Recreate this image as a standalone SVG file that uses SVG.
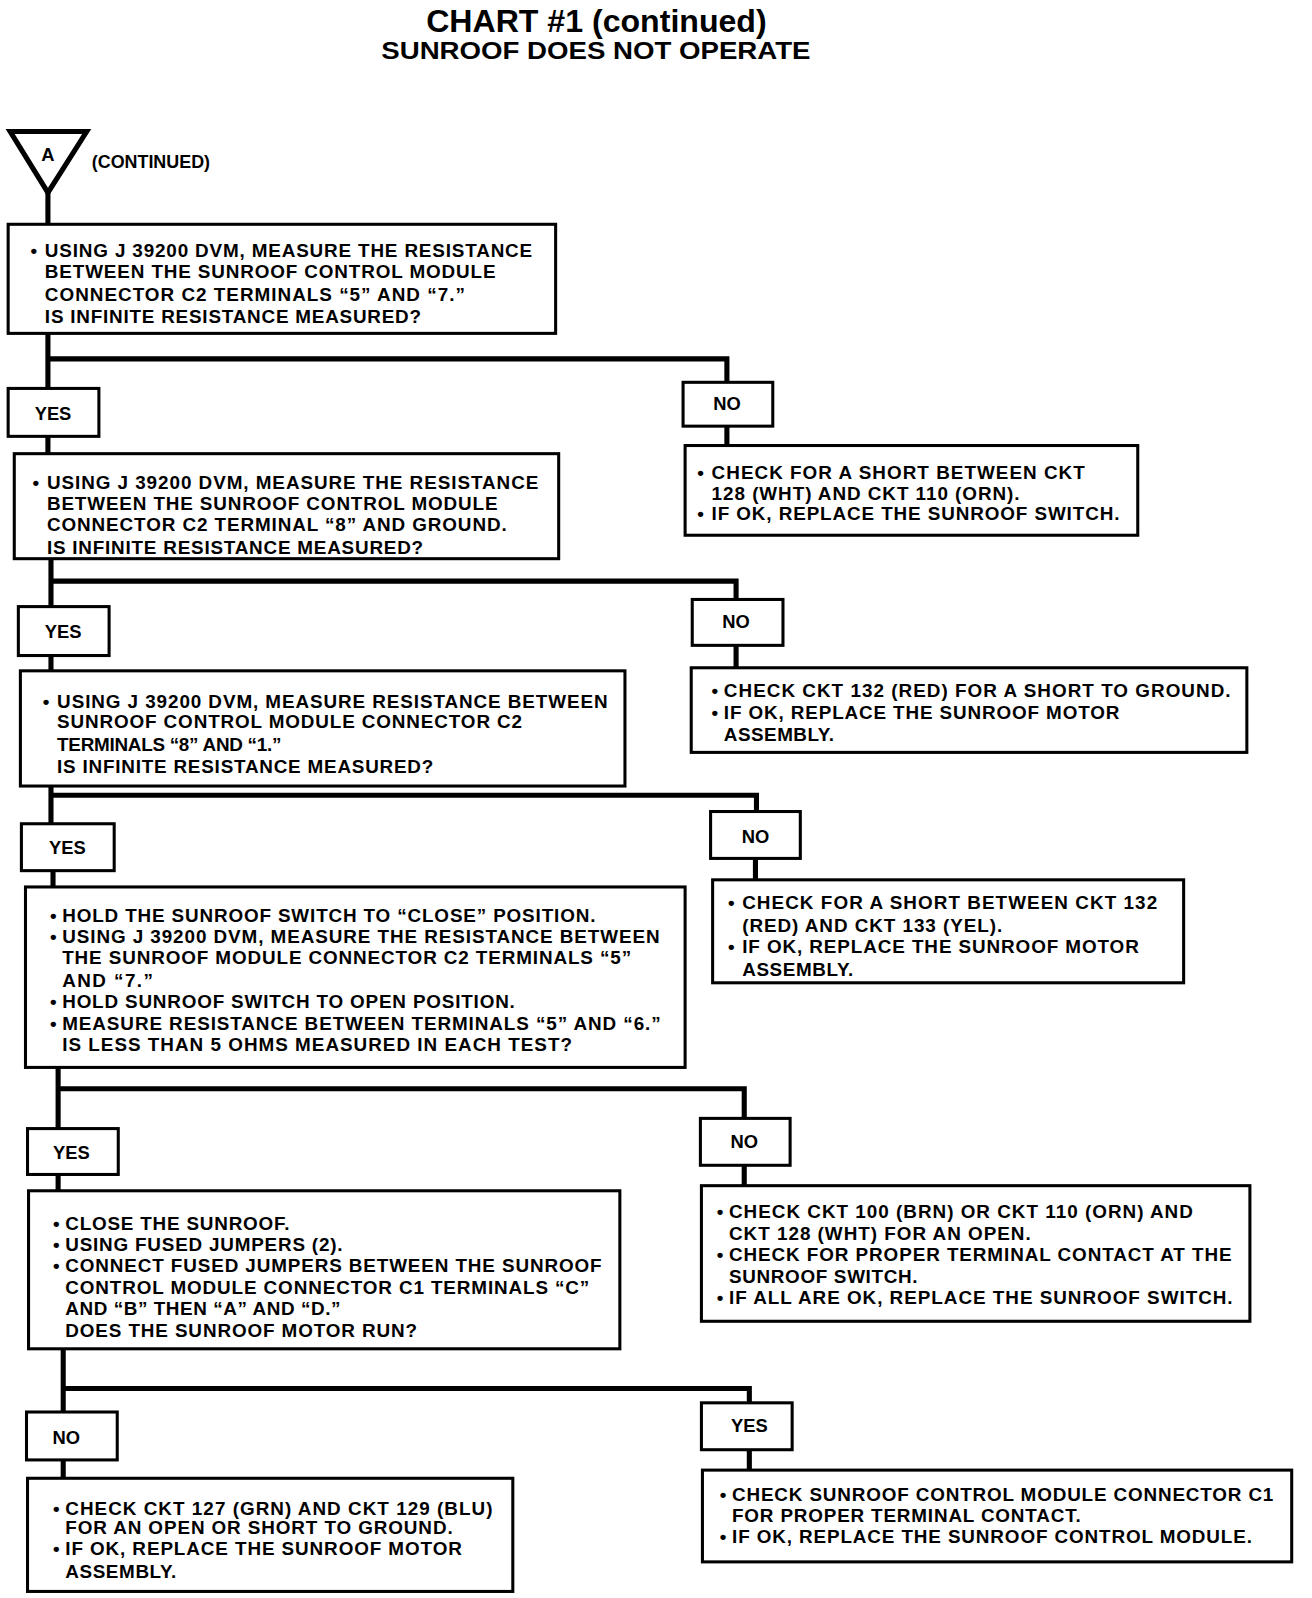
<svg xmlns="http://www.w3.org/2000/svg" width="1312" height="1598" viewBox="0 0 1312 1598">
<style>
.bg{fill:#fff}
.box{fill:#fff;stroke:#000;stroke-width:3}
.ln{fill:none;stroke:#000;stroke-width:5;stroke-linejoin:miter;stroke-linecap:square}
.t{font-family:"Liberation Sans",Arial,sans-serif;font-weight:bold;font-size:18.5px;fill:#000}
.lbl{font-family:"Liberation Sans",Arial,sans-serif;font-weight:bold;font-size:18px;fill:#000;text-anchor:middle}
.title{font-family:"Liberation Sans",Arial,sans-serif;font-weight:bold;fill:#000}
</style>
<rect class="bg" x="0" y="0" width="1312" height="1598"/>
<g transform="scale(1.0195)">
<text class="title" x="418" y="31" font-size="31" textLength="334" lengthAdjust="spacingAndGlyphs">CHART #1 (continued)</text>
<text class="title" x="374" y="58" font-size="23" textLength="421" lengthAdjust="spacingAndGlyphs">SUNROOF DOES NOT OPERATE</text>

<g id="connectors">
<path class="ln" d="M47,190 V220"/>
<path class="ln" d="M47,327 V381 M47,352 H713 V375"/>
<path class="ln" d="M47,428 V445 M713,418 V437"/>
<path class="ln" d="M50,548 V595 M50,570 H722 V588"/>
<path class="ln" d="M50,643 V658 M722,633 V655"/>
<path class="ln" d="M50,771 V808 M50,780 H742 V796"/>
<path class="ln" d="M52,854 V870 M741,842 V863"/>
<path class="ln" d="M57,1047 V1107 M57,1068 H730 V1097"/>
<path class="ln" d="M57,1152 V1168 M730,1143 V1163"/>
<path class="ln" d="M62,1323 V1385 M62,1362 H735 V1376"/>
<path class="ln" d="M62,1432 V1450 M735,1422 V1442"/>
</g>

<g id="start">
<path d="M10,129 H85 L47,189 Z" fill="#fff" stroke="#000" stroke-width="5" stroke-linejoin="miter"/>
<text class="lbl" x="47" y="158" font-size="14">A</text>
<text class="t" x="90" y="165" font-size="15" textLength="116" lengthAdjust="spacingAndGlyphs">(CONTINUED)</text>
</g>

<g id="q1">
<rect class="box" x="8" y="220" width="537" height="107"/>
<text class="t" x="30" y="252">•</text>
<text class="t" x="44" y="252" textLength="478" lengthAdjust="spacing">USING J 39200 DVM, MEASURE THE RESISTANCE</text>
<text class="t" x="44" y="273" textLength="442" lengthAdjust="spacing">BETWEEN THE SUNROOF CONTROL MODULE</text>
<text class="t" x="44" y="295" textLength="412" lengthAdjust="spacing">CONNECTOR C2 TERMINALS “5” AND “7.”</text>
<text class="t" x="44" y="317" textLength="369" lengthAdjust="spacing">IS INFINITE RESISTANCE MEASURED?</text>
</g>
<g id="yes1"><rect class="box" x="8" y="381" width="89" height="47"/><text class="lbl" x="52" y="412">YES</text></g>
<g id="no1"><rect class="box" x="670" y="375" width="88" height="43"/><text class="lbl" x="713" y="402">NO</text></g>
<g id="r1">
<rect class="box" x="672" y="437" width="444" height="88"/>
<text class="t" x="684" y="470">•</text>
<text class="t" x="698" y="470" textLength="366" lengthAdjust="spacing">CHECK FOR A SHORT BETWEEN CKT</text>
<text class="t" x="698" y="490" textLength="302" lengthAdjust="spacing">128 (WHT) AND CKT 110 (ORN).</text>
<text class="t" x="684" y="510">•</text>
<text class="t" x="698" y="510" textLength="400" lengthAdjust="spacing">IF OK, REPLACE THE SUNROOF SWITCH.</text>
</g>

<g id="q2">
<rect class="box" x="14" y="445" width="534" height="103"/>
<text class="t" x="32" y="480">•</text>
<text class="t" x="46" y="480" textLength="482" lengthAdjust="spacing">USING J 39200 DVM, MEASURE THE RESISTANCE</text>
<text class="t" x="46" y="500" textLength="442" lengthAdjust="spacing">BETWEEN THE SUNROOF CONTROL MODULE</text>
<text class="t" x="46" y="521" textLength="451" lengthAdjust="spacing">CONNECTOR C2 TERMINAL “8” AND GROUND.</text>
<text class="t" x="46" y="543" textLength="369" lengthAdjust="spacing">IS INFINITE RESISTANCE MEASURED?</text>
</g>
<g id="yes2"><rect class="box" x="18" y="595" width="89" height="48"/><text class="lbl" x="62" y="626">YES</text></g>
<g id="no2"><rect class="box" x="679" y="588" width="89" height="45"/><text class="lbl" x="722" y="616">NO</text></g>
<g id="r2">
<rect class="box" x="678" y="655" width="545" height="83"/>
<text class="t" x="698" y="684">•</text>
<text class="t" x="710" y="684" textLength="497" lengthAdjust="spacing">CHECK CKT 132 (RED) FOR A SHORT TO GROUND.</text>
<text class="t" x="698" y="705">•</text>
<text class="t" x="710" y="705" textLength="388" lengthAdjust="spacing">IF OK, REPLACE THE SUNROOF MOTOR</text>
<text class="t" x="710" y="727" textLength="108" lengthAdjust="spacing">ASSEMBLY.</text>
</g>

<g id="q3">
<rect class="box" x="20" y="658" width="593" height="113"/>
<text class="t" x="42" y="694">•</text>
<text class="t" x="56" y="694" textLength="540" lengthAdjust="spacing">USING J  39200 DVM, MEASURE RESISTANCE BETWEEN</text>
<text class="t" x="56" y="714" textLength="456" lengthAdjust="spacing">SUNROOF CONTROL MODULE CONNECTOR C2</text>
<text class="t" x="56" y="737" textLength="220" lengthAdjust="spacing">TERMINALS “8” AND “1.”</text>
<text class="t" x="56" y="758" textLength="369" lengthAdjust="spacing">IS INFINITE RESISTANCE MEASURED?</text>
</g>
<g id="yes3"><rect class="box" x="21" y="808" width="91" height="46"/><text class="lbl" x="66" y="838">YES</text></g>
<g id="no3"><rect class="box" x="697" y="796" width="88" height="46"/><text class="lbl" x="741" y="827">NO</text></g>
<g id="r3">
<rect class="box" x="699" y="863" width="462" height="101"/>
<text class="t" x="714" y="892">•</text>
<text class="t" x="728" y="892" textLength="407" lengthAdjust="spacing">CHECK FOR A SHORT BETWEEN CKT 132</text>
<text class="t" x="728" y="914" textLength="255" lengthAdjust="spacing">(RED) AND CKT 133 (YEL).</text>
<text class="t" x="714" y="935">•</text>
<text class="t" x="728" y="935" textLength="389" lengthAdjust="spacing">IF OK, REPLACE THE SUNROOF MOTOR</text>
<text class="t" x="728" y="957" textLength="109" lengthAdjust="spacing">ASSEMBLY.</text>
</g>

<g id="q4">
<rect class="box" x="25" y="870" width="647" height="177"/>
<text class="t" x="49" y="904">•</text>
<text class="t" x="61" y="904" textLength="523" lengthAdjust="spacing">HOLD THE SUNROOF SWITCH TO “CLOSE” POSITION.</text>
<text class="t" x="49" y="925">•</text>
<text class="t" x="61" y="925" textLength="586" lengthAdjust="spacing">USING J  39200 DVM, MEASURE THE RESISTANCE BETWEEN</text>
<text class="t" x="61" y="946" textLength="558" lengthAdjust="spacing">THE SUNROOF MODULE CONNECTOR C2 TERMINALS “5”</text>
<text class="t" x="61" y="968" textLength="89" lengthAdjust="spacing">AND “7.”</text>
<text class="t" x="49" y="989">•</text>
<text class="t" x="61" y="989" textLength="444" lengthAdjust="spacing">HOLD SUNROOF SWITCH TO OPEN POSITION.</text>
<text class="t" x="49" y="1010">•</text>
<text class="t" x="61" y="1010" textLength="587" lengthAdjust="spacing">MEASURE RESISTANCE BETWEEN TERMINALS “5” AND “6.”</text>
<text class="t" x="61" y="1031" textLength="500" lengthAdjust="spacing">IS LESS THAN 5 OHMS MEASURED IN EACH TEST?</text>
</g>
<g id="yes4"><rect class="box" x="27" y="1107" width="89" height="45"/><text class="lbl" x="70" y="1137">YES</text></g>
<g id="no4"><rect class="box" x="687" y="1097" width="88" height="46"/><text class="lbl" x="730" y="1126">NO</text></g>
<g id="r4">
<rect class="box" x="688" y="1163" width="538" height="133"/>
<text class="t" x="703" y="1195">•</text>
<text class="t" x="715" y="1195" textLength="455" lengthAdjust="spacing">CHECK CKT 100 (BRN) OR CKT 110 (ORN) AND</text>
<text class="t" x="715" y="1216" textLength="296" lengthAdjust="spacing">CKT 128 (WHT) FOR AN OPEN.</text>
<text class="t" x="703" y="1237">•</text>
<text class="t" x="715" y="1237" textLength="493" lengthAdjust="spacing">CHECK FOR PROPER TERMINAL CONTACT AT THE</text>
<text class="t" x="715" y="1258" textLength="185" lengthAdjust="spacing">SUNROOF SWITCH.</text>
<text class="t" x="703" y="1279">•</text>
<text class="t" x="715" y="1279" textLength="494" lengthAdjust="spacing">IF ALL ARE OK, REPLACE THE SUNROOF SWITCH.</text>
</g>

<g id="q5">
<rect class="box" x="28" y="1168" width="580" height="155"/>
<text class="t" x="52" y="1206">•</text>
<text class="t" x="64" y="1206" textLength="220" lengthAdjust="spacing">CLOSE THE SUNROOF.</text>
<text class="t" x="52" y="1227">•</text>
<text class="t" x="64" y="1227" textLength="272" lengthAdjust="spacing">USING FUSED JUMPERS (2).</text>
<text class="t" x="52" y="1248">•</text>
<text class="t" x="64" y="1248" textLength="526" lengthAdjust="spacing">CONNECT FUSED JUMPERS BETWEEN THE SUNROOF</text>
<text class="t" x="64" y="1269" textLength="514" lengthAdjust="spacing">CONTROL MODULE CONNECTOR C1 TERMINALS “C”</text>
<text class="t" x="64" y="1290" textLength="270" lengthAdjust="spacing">AND “B” THEN “A” AND “D.”</text>
<text class="t" x="64" y="1311" textLength="345" lengthAdjust="spacing">DOES THE SUNROOF MOTOR RUN?</text>
</g>
<g id="no5"><rect class="box" x="26" y="1385" width="89" height="47"/><text class="lbl" x="65" y="1416">NO</text></g>
<g id="yes5"><rect class="box" x="688" y="1376" width="89" height="46"/><text class="lbl" x="735" y="1405">YES</text></g>
<g id="r5">
<rect class="box" x="27" y="1450" width="476" height="111"/>
<text class="t" x="52" y="1486">•</text>
<text class="t" x="64" y="1486" textLength="419" lengthAdjust="spacing">CHECK CKT 127 (GRN) AND CKT 129 (BLU)</text>
<text class="t" x="64" y="1505" textLength="380" lengthAdjust="spacing">FOR AN OPEN OR SHORT TO GROUND.</text>
<text class="t" x="52" y="1525">•</text>
<text class="t" x="64" y="1525" textLength="389" lengthAdjust="spacing">IF OK, REPLACE THE SUNROOF MOTOR</text>
<text class="t" x="64" y="1548" textLength="109" lengthAdjust="spacing">ASSEMBLY.</text>
</g>
<g id="r6">
<rect class="box" x="689" y="1442" width="578" height="90"/>
<text class="t" x="706" y="1472">•</text>
<text class="t" x="718" y="1472" textLength="531" lengthAdjust="spacing">CHECK SUNROOF CONTROL MODULE CONNECTOR C1</text>
<text class="t" x="718" y="1493" textLength="342" lengthAdjust="spacing">FOR PROPER TERMINAL CONTACT.</text>
<text class="t" x="706" y="1513">•</text>
<text class="t" x="718" y="1513" textLength="510" lengthAdjust="spacing">IF OK, REPLACE THE SUNROOF CONTROL MODULE.</text>
</g>
</g>
</svg>
